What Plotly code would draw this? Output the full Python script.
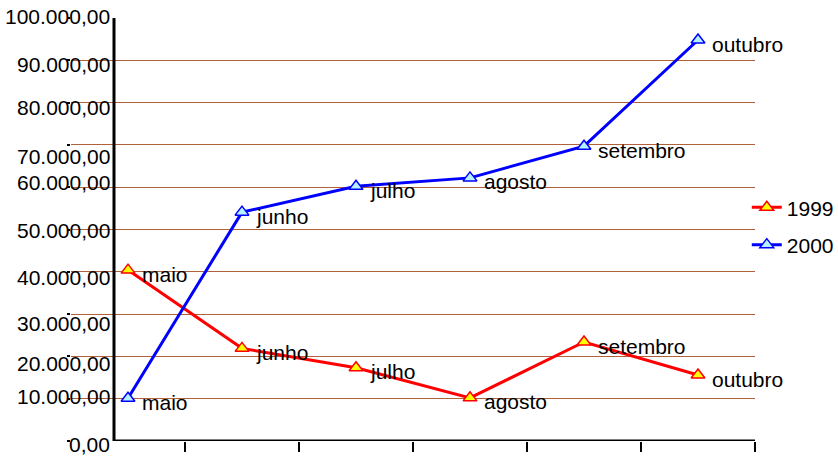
import plotly.graph_objects as go

# Months and monthly totals for each year
months = ["maio", "junho", "julho", "agosto", "setembro", "outubro"]
values_1999 = [40400, 21900, 17300, 10200, 23400, 15600]
values_2000 = [10100, 54100, 60200, 62200, 69700, 94800]

# Y tick values and their printed labels
y_ticks = [0, 10000, 20000, 30000, 40000, 50000, 60000, 70000, 80000, 90000, 100000]
y_tick_text = ["0,00", "10.000,00", "20.000,00", "30.000,00", "40.000,00", "50.000,00",
               "60.000,00", "70.000,00", "80.000,00", "90.000,00", "100.000,00"]
# small vertical nudges (px) of each tick label
y_label_nudge = [-3, 2, -7, -9, -6, -1, 5, -12, -5, -4, 2]

FONT = "Liberation Sans, Arial, sans-serif"
GRID = "#B0603A"

x_idx = list(range(len(months)))

fig = go.Figure()

series = [
    ("1999", values_1999, "#FF0000", "#FFFF00"),
    ("2000", values_2000, "#0000FF", "#B4F2FF"),
]
for name, vals, line_col, fill_col in series:
    fig.add_trace(go.Scatter(
        x=x_idx, y=vals, name=name, mode="lines+markers",
        legendgroup=name,
        line=dict(color=line_col, width=3),
        marker=dict(symbol="triangle-up", size=12, color=fill_col,
                    line=dict(color=line_col, width=1.5)),
        hoverinfo="skip",
    ))
    for i, v in zip(x_idx, vals):
        fig.add_annotation(
            x=i, y=v, text=months[i], showarrow=False,
            xanchor="left", yanchor="middle", xshift=12, yshift=-4,
            font=dict(family=FONT, size=21, color="black"),
        )

# y tick labels, right-aligned against the drawn vertical axis
for val, txt, nudge in zip(y_ticks, y_tick_text, y_label_nudge):
    fig.add_annotation(
        xref="paper", x=0.06, y=val, yref="y", text=txt, showarrow=False,
        xanchor="right", yanchor="middle", yshift=nudge,
        font=dict(family=FONT, size=21, color="black"),
    )

# drawn axis lines
axis_x = -0.5 + 43 / 114
fig.add_shape(type="line", xref="x", yref="y", x0=axis_x, x1=axis_x, y0=0, y1=100000,
              line=dict(color="black", width=3), layer="above")
fig.add_shape(type="line", xref="x", yref="y", x0=axis_x, x1=5.52, y0=0, y1=0,
              line=dict(color="black", width=3), layer="above")

fig.update_layout(
    width=838, height=456,
    margin=dict(l=71, r=83, t=18, b=15, autoexpand=False),
    paper_bgcolor="white", plot_bgcolor="white",
    font=dict(family=FONT, size=21, color="black"),
    showlegend=True,
    legend=dict(x=0.988, xanchor="left", y=0.60, yanchor="top",
                font=dict(family=FONT, size=21, color="black"),
                bgcolor="rgba(0,0,0,0)", traceorder="grouped",
                tracegroupgap=7, itemwidth=30),
    xaxis=dict(range=[-0.5, 5.5], showgrid=False, zeroline=False, showline=False,
               tickvals=[0.5, 1.5, 2.5, 3.5, 4.5, 5.5], showticklabels=False,
               ticks="outside", ticklen=10, tickwidth=2, tickcolor="black",
               automargin=False),
    yaxis=dict(range=[0, 100000], tickvals=y_ticks, showticklabels=False,
               showgrid=True, gridcolor=GRID, gridwidth=1, zeroline=False,
               showline=False, ticks="outside", ticklen=3, tickwidth=2,
               tickcolor="black", automargin=False),
)

fig.write_html("out.html")
